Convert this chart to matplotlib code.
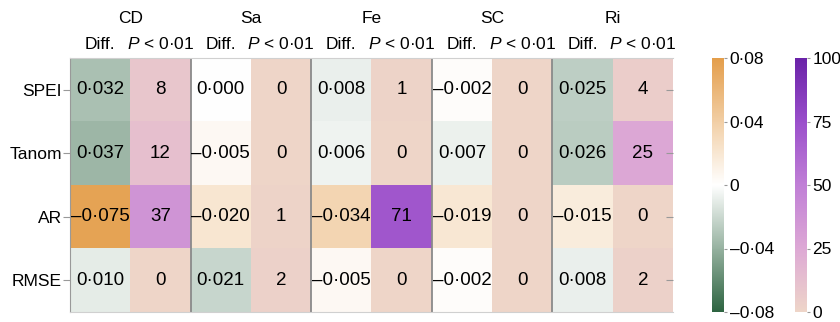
import numpy as np
import matplotlib
matplotlib.use('Agg')
import matplotlib.pyplot as plt
from matplotlib.colors import LinearSegmentedColormap, Normalize
from matplotlib.cm import ScalarMappable

plt.rcParams['font.family'] = ['Liberation Sans', 'DejaVu Sans']
plt.rcParams['mathtext.fontset'] = 'custom'
plt.rcParams['mathtext.it'] = 'Liberation Sans:italic'
plt.rcParams['mathtext.rm'] = 'Liberation Sans'

# datos
grupos = ['CD', 'Sa', 'Fe', 'SC', 'Ri']
filas = ['SPEI', 'Tanom', 'AR', 'RMSE']
diff = np.array([[0.032, 0.000, 0.008, -0.002, 0.025],
                 [0.037, -0.005, 0.006, 0.007, 0.026],
                 [-0.075, -0.020, -0.034, -0.019, -0.015],
                 [0.010, 0.021, -0.005, -0.002, 0.008]])
pct = np.array([[8, 0, 1, 0, 4],
                [12, 0, 0, 0, 25],
                [37, 1, 71, 0, 0],
                [0, 2, 0, 0, 2]])
ticks_diff = [-0.08, -0.04, 0, 0.04, 0.08]
ticks_pct = [0, 25, 50, 75, 100]

# mapas de color
cmap_diff = LinearSegmentedColormap.from_list('gw_or', ['#2D6441', '#FFFFFF', '#E49E4B'])
cmap_pct = LinearSegmentedColormap.from_list('pk_pu', ['#EED5C8', '#DDA8D5', '#C07FD6', '#9A4FCB', '#6A22A8'])
norm_diff = Normalize(-0.08, 0.08)
norm_pct = Normalize(0, 100)


def fmt(v, nd=3):
    s = f'{abs(v):.{nd}f}'.replace('.', '\u00b7')
    if v < 0:
        s = '\u2013' + s
    return s


fig = plt.figure(figsize=(8.4, 3.22), dpi=100)
ax = fig.add_axes([70/840, 10/322, 603/840, 254/322])

nr, ng = diff.shape
rgba = np.zeros((nr, ng*2, 4))
for j in range(ng):
    # el color usa el valor con signo opuesto
    rgba[:, 2*j] = cmap_diff(norm_diff(-diff[:, j]))
    rgba[:, 2*j+1] = cmap_pct(norm_pct(pct[:, j]))
ax.imshow(rgba, aspect='auto', extent=(0, ng*2, nr, 0), interpolation='nearest')

for i in range(nr):
    for j in range(ng):
        ax.text(2*j+0.5, i+0.5, fmt(diff[i, j]), ha='center', va='center', fontsize=13.5)
        ax.text(2*j+1.5, i+0.5, str(pct[i, j]), ha='center', va='center', fontsize=13.5)

for j in range(1, ng):
    ax.axvline(2*j, color='#8a8a8a', lw=1.3)

ax.set_xlim(0, ng*2)
ax.set_ylim(nr, 0)
ax.set_xticks([])
ax.set_yticks(np.arange(nr)+0.5)
ax.set_yticklabels(filas, fontsize=12.5)
ax.tick_params(axis='y', length=5, color='#999999', pad=1)
ax.spines['left'].set_color('#999999')
ax.spines['top'].set_color('#d0d0d0')
ax.spines['bottom'].set_color('#d0d0d0')
ax.spines['right'].set_visible(False)

# marcas del lado derecho hacia adentro
axr = ax.twinx()
axr.set_ylim(nr, 0)
axr.set_yticks(np.arange(nr)+0.5)
axr.set_yticklabels([])
axr.tick_params(axis='y', direction='in', length=5, color='#999999')
for s in axr.spines.values():
    s.set_visible(False)

# encabezados
for j, g in enumerate(grupos):
    ax.text(2*j+1, -0.62, g, ha='center', va='center', fontsize=12.5, clip_on=False)
    ax.text(2*j+0.5, -0.22, 'Diff.', ha='center', va='center', fontsize=12.5, clip_on=False)
    ax.text(2*j+1.5, -0.22, '$P$ < 0\u00b701', ha='center', va='center', fontsize=12.5, clip_on=False)

# barras de color
cax1 = fig.add_axes([712/840, 10/322, 12/840, 254/322])
cb1 = fig.colorbar(ScalarMappable(norm_diff, cmap_diff), cax=cax1, ticks=ticks_diff)
cb1.set_ticklabels([fmt(t, 2) if t != 0 else '0' for t in ticks_diff])
cax2 = fig.add_axes([795/840, 10/322, 12/840, 254/322])
cb2 = fig.colorbar(ScalarMappable(norm_pct, cmap_pct), cax=cax2, ticks=ticks_pct)
cb2.set_ticklabels([str(t) for t in ticks_pct])
for cb in (cb1, cb2):
    cb.outline.set_visible(False)
    cb.ax.tick_params(length=2, color='#999999', labelsize=12.5, pad=2)

fig.savefig('out.png', dpi=100)
